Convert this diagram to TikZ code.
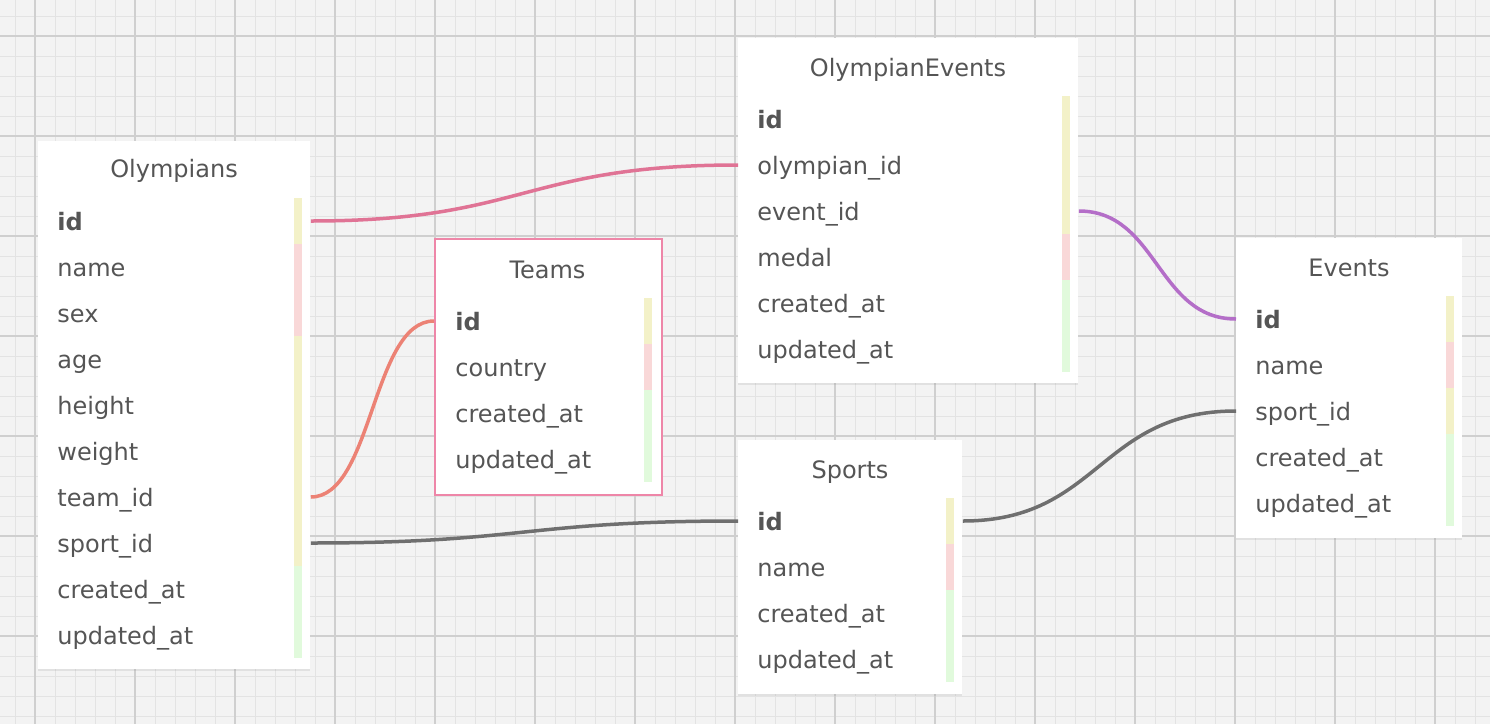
\documentclass[tikz,border=0pt]{standalone}
\usepackage{fontspec}
\setmainfont{DejaVu Sans}
\usetikzlibrary{calc}
\usetikzlibrary{shadows}
\definecolor{paperGray}{HTML}{F3F3F3}
\definecolor{gridMinor}{HTML}{E3E3E3}
\definecolor{gridMajor}{HTML}{CFCFCF}
\definecolor{inkGray}{HTML}{555555}
\definecolor{keyYellow}{HTML}{F3F1C8}
\definecolor{textPink}{HTML}{F9D8D8}
\definecolor{stampGreen}{HTML}{E1FADC}
\definecolor{teamPink}{HTML}{EE86A8}
\definecolor{linkRose}{HTML}{E07395}
\definecolor{linkSalmon}{HTML}{EC8275}
\definecolor{linkGray}{HTML}{6F6F6F}
\definecolor{linkPurple}{HTML}{B46EC8}
\tikzset{
  tablebox/.style={fill=white, anchor=north west, inner sep=0pt,
    drop shadow={shadow xshift=0pt, shadow yshift=-0.6pt, opacity=0.15}},
  tabletitle/.style={font=\fontsize{12pt}{14pt}\selectfont, text=inkGray,
    text height=0.95em, text depth=0pt, inner sep=0pt},
  field/.style={tabletitle, anchor=west},
  link/.style={line width=1.75pt},
}

\begin{document}
\begin{tikzpicture}[x=0.5pt, y=-0.5pt]
    \useasboundingbox (0,0) rectangle (1490,724);
    \fill[paperGray] (0,0) rectangle (1490,724);

    % grid
    \foreach \gx in {15,35,...,1475} \draw[gridMinor, line width=0.5pt] (\gx,0) -- (\gx,724);
    \foreach \gy in {16,36,...,716} \draw[gridMinor, line width=0.5pt] (0,\gy) -- (1490,\gy);
    \foreach \gx in {35,135,...,1435} \draw[gridMajor, line width=0.8pt] (\gx,0) -- (\gx,724);
    \foreach \gy in {36,136,...,636} \draw[gridMajor, line width=0.8pt] (0,\gy) -- (1490,\gy);

    % tables
    \node[tablebox, minimum width=136pt, minimum height=264pt] (olympians) at (38,141) {};
    \node[tablebox, draw=teamPink, line width=1pt, minimum width=113.5pt, minimum height=128pt] (teams) at (434,238) {};
    \node[tablebox, minimum width=170pt, minimum height=172.5pt] (olyev) at (738,38) {};
    \node[tablebox, minimum width=113pt, minimum height=150pt] (events) at (1236,238) {};
    \node[tablebox, minimum width=112pt, minimum height=127pt] (sports) at (738,440) {};

    % colour bars
    \fill[keyYellow]  (294,198) rectangle (302,244);
    \fill[textPink]   (294,244) rectangle (302,336);
    \fill[keyYellow]  (294,336) rectangle (302,566);
    \fill[stampGreen] (294,566) rectangle (302,658);

    \fill[keyYellow]  (644,298) rectangle (652,344);
    \fill[textPink]   (644,344) rectangle (652,390);
    \fill[stampGreen] (644,390) rectangle (652,482);

    \fill[keyYellow]  (1062,96) rectangle (1070,234);
    \fill[textPink]   (1062,234) rectangle (1070,280);
    \fill[stampGreen] (1062,280) rectangle (1070,372);

    \fill[keyYellow]  (1446,296) rectangle (1454,342);
    \fill[textPink]   (1446,342) rectangle (1454,388);
    \fill[keyYellow]  (1446,388) rectangle (1454,434);
    \fill[stampGreen] (1446,434) rectangle (1454,526);

    \fill[keyYellow]  (946,498) rectangle (954,544);
    \fill[textPink]   (946,544) rectangle (954,590);
    \fill[stampGreen] (946,590) rectangle (954,682);

    % Olympians
    \node[tabletitle] (oly-title) at (174,168) {Olympians};
    \node[field] (oly-id)      at (57,221) {\textbf{id}};
    \node[field] (oly-name)    at (57,267) {name};
    \node[field] (oly-sex)     at (57,313) {sex};
    \node[field] (oly-age)     at (57,359) {age};
    \node[field] (oly-height)  at (57,405) {height};
    \node[field] (oly-weight)  at (57,451) {weight};
    \node[field] (oly-team)    at (57,497) {team\_id};
    \node[field] (oly-sport)   at (57,543) {sport\_id};
    \node[field] (oly-created) at (57,589) {created\_at};
    \node[field] (oly-updated) at (57,635) {updated\_at};

    % Teams
    \node[tabletitle] (team-title) at (547.5,269) {Teams};
    \node[field] (team-id)      at (455,321) {\textbf{id}};
    \node[field] (team-country) at (455,367) {country};
    \node[field] (team-created) at (455,413) {created\_at};
    \node[field] (team-updated) at (455,459) {updated\_at};

    % OlympianEvents
    \node[tabletitle] (oe-title) at (908,67) {OlympianEvents};
    \node[field] (oe-id)       at (757,119) {\textbf{id}};
    \node[field] (oe-olympian) at (757,165) {olympian\_id};
    \node[field] (oe-event)    at (757,211) {event\_id};
    \node[field] (oe-medal)    at (757,257) {medal};
    \node[field] (oe-created)  at (757,303) {created\_at};
    \node[field] (oe-updated)  at (757,349) {updated\_at};

    % Events
    \node[tabletitle] (ev-title) at (1349,267) {Events};
    \node[field] (ev-id)      at (1255,319) {\textbf{id}};
    \node[field] (ev-name)    at (1255,365) {name};
    \node[field] (ev-sport)   at (1255,411) {sport\_id};
    \node[field] (ev-created) at (1255,457) {created\_at};
    \node[field] (ev-updated) at (1255,503) {updated\_at};

    % Sports
    \node[tabletitle] (sp-title) at (850,469) {Sports};
    \node[field] (sp-id)      at (757,521) {\textbf{id}};
    \node[field] (sp-name)    at (757,567) {name};
    \node[field] (sp-created) at (757,613) {created\_at};
    \node[field] (sp-updated) at (757,659) {updated\_at};

    % relations
    \draw[link, linkRose] (olympians.east |- oly-id) .. controls +(214,0) and +(-214,0) .. (olyev.west |- oe-olympian);
    \draw[link, linkSalmon] (olympians.east |- oly-team) .. controls +(62,0) and +(-62,0) .. (teams.west |- team-id);
    \draw[link, linkGray] (olympians.east |- oly-sport) .. controls +(214,0) and +(-214,0) .. (sports.west |- sp-id);
    \draw[link, linkPurple] (olyev.east |- oe-event) .. controls +(79,0) and +(-79,0) .. (events.west |- ev-id);
    \draw[link, linkGray] (sports.east |- sp-id) .. controls +(137,0) and +(-137,0) .. (events.west |- ev-sport);
  \end{tikzpicture}
\end{document}
